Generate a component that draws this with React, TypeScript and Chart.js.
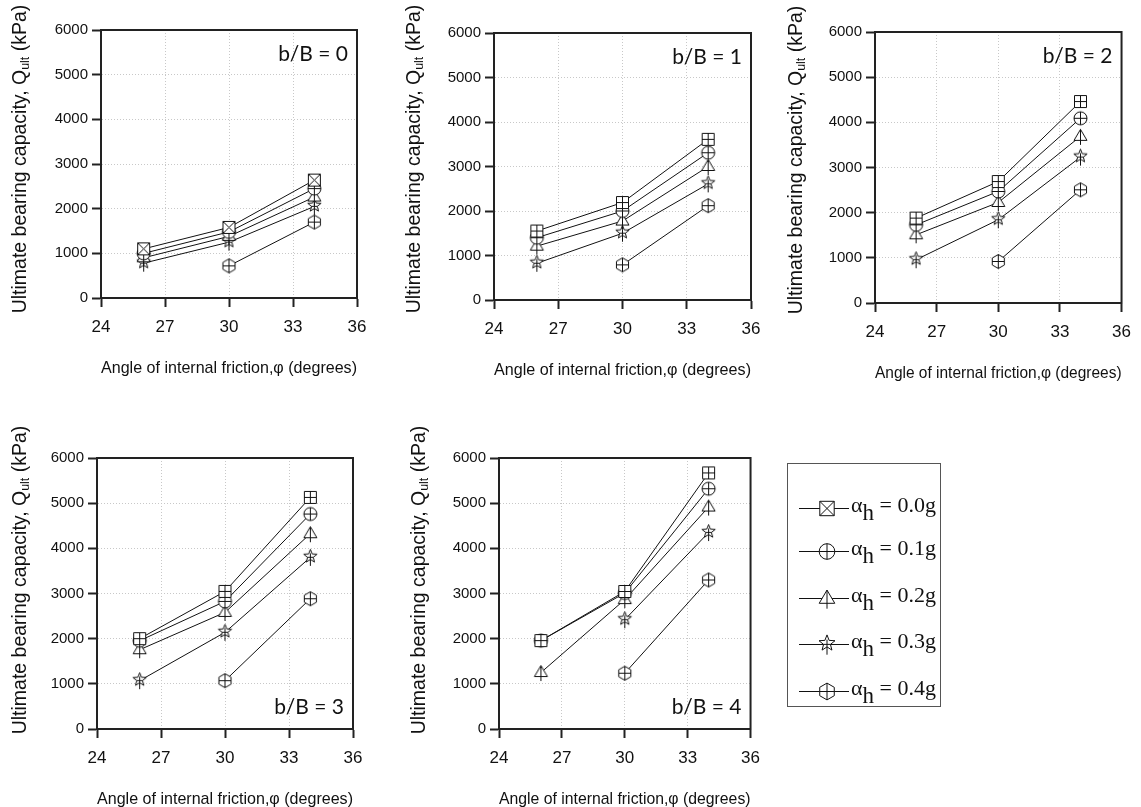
import React, { useEffect, useRef } from 'react';
import { Chart, registerables } from 'chart.js';
Chart.register(...registerables);

// ---------------- data ----------------
const phiDeg = [26, 30, 34];
const xTickValues = [24, 27, 30, 33, 36];
const yTickValues = [0, 1000, 2000, 3000, 4000, 5000, 6000];
const accelLabels = ['0.0g', '0.1g', '0.2g', '0.3g', '0.4g'];
const panelTitles = ['b/B = 0', 'b/B = 1', 'b/B = 2', 'b/B = 3', 'b/B = 4'];

// Q_ult (kPa); rows: α_h = 0.0g .. 0.4g ; columns: φ = 26, 30, 34
const qult_bB0 = [
  [1100, 1580, 2640],
  [1000, 1480, 2450],
  [900, 1380, 2260],
  [780, 1250, 2050],
  [null, 720, 1700],
];
const qult_bB1 = [
  [1550, 2190, 3610],
  [1400, 2000, 3310],
  [1210, 1775, 3000],
  [825, 1500, 2610],
  [null, 790, 2120],
];
const qult_bB2 = [
  [1880, 2690, 4460],
  [1730, 2470, 4090],
  [1510, 2226, 3690],
  [958, 1843, 3230],
  [null, 920, 2506],
];
const qult_bB3 = [
  [2000, 3046, 5128],
  [1955, 2825, 4760],
  [1755, 2582, 4324],
  [1070, 2140, 3800],
  [null, 1070, 2885],
];
const qult_bB4 = [
  [1957, 3045, 5670],
  [1957, 3010, 5320],
  [1250, 2865, 4915],
  [null, 2420, 4350],
  [null, 1235, 3300],
];

// ---------------- layout ----------------
type PanelCfg = {
  values: (number | null)[][];
  title: string;
  labelTop: boolean;
  squareKind: string;
  left: number; top: number; w: number; h: number;
  pl: number; pt: number; pr: number; pb: number;
  yTitleX: number; yTitleCY: number;
};

const panels: PanelCfg[] = [
  { values: qult_bB0, title: panelTitles[0], labelTop: true, squareKind: 'sqx', left: 0, top: 0, w: 380, h: 390, pl: 101, pt: 30, pr: 357, pb: 298, yTitleX: 21, yTitleCY: 159 },
  { values: qult_bB1, title: panelTitles[1], labelTop: true, squareKind: 'sqp', left: 385, top: 0, w: 390, h: 390, pl: 109, pt: 33, pr: 366, pb: 300, yTitleX: 30, yTitleCY: 159 },
  { values: qult_bB2, title: panelTitles[2], labelTop: true, squareKind: 'sqp', left: 770, top: 0, w: 371, h: 390, pl: 105, pt: 32, pr: 362, pb: 303, yTitleX: 27, yTitleCY: 160 },
  { values: qult_bB3, title: panelTitles[3], labelTop: false, squareKind: 'sqp', left: 0, top: 420, w: 380, h: 400, pl: 97, pt: 38, pr: 353, pb: 309, yTitleX: 21, yTitleCY: 160 },
  { values: qult_bB4, title: panelTitles[4], labelTop: false, squareKind: 'sqp', left: 400, top: 420, w: 370, h: 400, pl: 99, pt: 38, pr: 354, pb: 309, yTitleX: 20, yTitleCY: 160 },
];

const SANS = "'Liberation Sans', Arial, sans-serif";
const SERIF = "'Liberation Serif', 'Times New Roman', serif";
const INK = '#111';

// ---------------- markers ----------------
function drawMarker(ctx: CanvasRenderingContext2D, kind: string, cx: number, cy: number, k: number) {
  const h = 6 * k;
  ctx.save();
  ctx.lineWidth = 1;
  ctx.strokeStyle = INK;
  ctx.fillStyle = '#fff';
  ctx.beginPath();
  if (kind === 'sqx' || kind === 'sqp') {
    ctx.rect(cx - h, cy - h, 2 * h, 2 * h);
    ctx.fill();
    ctx.stroke();
    ctx.beginPath();
    if (kind === 'sqx') {
      ctx.moveTo(cx - h, cy - h); ctx.lineTo(cx + h, cy + h);
      ctx.moveTo(cx + h, cy - h); ctx.lineTo(cx - h, cy + h);
    } else {
      ctx.moveTo(cx, cy - h); ctx.lineTo(cx, cy + h);
      ctx.moveTo(cx - h, cy); ctx.lineTo(cx + h, cy);
    }
    ctx.stroke();
  } else if (kind === 'cp') {
    const r = 6.5 * k;
    ctx.arc(cx, cy, r, 0, Math.PI * 2);
    ctx.fill();
    ctx.stroke();
    ctx.beginPath();
    ctx.moveTo(cx, cy - r); ctx.lineTo(cx, cy + r);
    ctx.moveTo(cx - r, cy); ctx.lineTo(cx + r, cy);
    ctx.stroke();
  } else if (kind === 'tri') {
    const top = cy - 7 * k, base = cy + 4 * k, hw = 6.5 * k;
    ctx.moveTo(cx, top); ctx.lineTo(cx + hw, base); ctx.lineTo(cx - hw, base); ctx.closePath();
    ctx.fill();
    ctx.stroke();
    ctx.beginPath();
    ctx.moveTo(cx, top); ctx.lineTo(cx, cy + 8.5 * k);
    ctx.stroke();
  } else if (kind === 'star') {
    const R = 7 * k, r = 3 * k, oy = cy - 1 * k;
    for (let i = 0; i < 10; i++) {
      const a = -Math.PI / 2 + (i * Math.PI) / 5;
      const rr = i % 2 ? r : R;
      const px = cx + rr * Math.cos(a), py = oy + rr * Math.sin(a);
      if (i === 0) ctx.moveTo(px, py); else ctx.lineTo(px, py);
    }
    ctx.closePath();
    ctx.fill();
    ctx.stroke();
    ctx.beginPath();
    ctx.moveTo(cx, oy - r); ctx.lineTo(cx, cy + 8.5 * k);
    ctx.moveTo(cx - r, oy + r * 0.3); ctx.lineTo(cx + r, oy + r * 0.3);
    ctx.stroke();
  } else if (kind === 'hex') {
    const R = 7 * k;
    for (let i = 0; i < 6; i++) {
      const a = -Math.PI / 2 + (i * Math.PI) / 3;
      const px = cx + R * Math.cos(a), py = cy + R * Math.sin(a);
      if (i === 0) ctx.moveTo(px, py); else ctx.lineTo(px, py);
    }
    ctx.closePath();
    ctx.fill();
    ctx.stroke();
    const hw = R * Math.cos(Math.PI / 6);
    ctx.beginPath();
    ctx.moveTo(cx, cy - R); ctx.lineTo(cx, cy + R);
    ctx.moveTo(cx - hw, cy); ctx.lineTo(cx + hw, cy);
    ctx.stroke();
  }
  ctx.restore();
}

const markerCache: Record<string, HTMLCanvasElement> = {};
function getMarker(kind: string): HTMLCanvasElement {
  if (!markerCache[kind]) {
    const c = document.createElement('canvas');
    c.width = 21;
    c.height = 21;
    const ctx = c.getContext('2d')!;
    drawMarker(ctx, kind, 10.5, 10.5, 1);
    markerCache[kind] = c;
  }
  return markerCache[kind];
}

const seriesKinds = ['SQ', 'cp', 'tri', 'star', 'hex'];

// ---------------- chart ----------------
function buildConfig(p: PanelCfg): any {
  const decor = {
    id: 'decor' + p.title,
    afterDraw(chart: any) {
      const { ctx, chartArea: a } = chart;
      ctx.save();
      // full frame
      ctx.strokeStyle = '#222';
      ctx.lineWidth = 2;
      ctx.strokeRect(a.left, a.top, a.right - a.left, a.bottom - a.top);
      // panel label
      ctx.fillStyle = INK;
      ctx.font = "21px Lato, 'Open Sans', sans-serif";
      ctx.textAlign = 'right';
      ctx.textBaseline = 'middle';
      ctx.fillText(p.title, a.right - 9, p.labelTop ? a.top + 24 : a.bottom - 22);
      // y-axis title with subscript
      const big = `19.5px ${SANS}`;
      const small = `12.5px ${SANS}`;
      const t1 = 'Ultimate bearing capacity, Q';
      const t2 = 'ult';
      const t3 = ' (kPa)';
      ctx.font = big;
      const w1 = ctx.measureText(t1).width;
      const w3 = ctx.measureText(t3).width;
      ctx.font = small;
      const w2 = ctx.measureText(t2).width;
      const total = w1 + w2 + w3;
      ctx.translate(p.yTitleX, p.yTitleCY);
      ctx.rotate(-Math.PI / 2);
      ctx.textAlign = 'left';
      ctx.textBaseline = 'middle';
      let x = -total / 2;
      ctx.font = big;
      ctx.fillText(t1, x, 0);
      x += w1;
      ctx.font = small;
      ctx.fillText(t2, x, 5);
      x += w2;
      ctx.font = big;
      ctx.fillText(t3, x, 0);
      ctx.restore();
    },
  };

  const xTitleFont = 17;
  const xTitleCenter = p.pb + 70;
  const titlePadBottom = Math.max(0, p.h - xTitleCenter - (xTitleFont * 1.2) / 2);

  return {
    type: 'line',
    data: {
      datasets: accelLabels.map((lab, i) => {
        const kind = seriesKinds[i] === 'SQ' ? p.squareKind : seriesKinds[i];
        return {
          label: 'α_h = ' + lab,
          data: phiDeg.map((x, j) => ({ x, y: p.values[i][j] })),
          borderColor: INK,
          backgroundColor: '#fff',
          borderWidth: 1,
          pointStyle: getMarker(kind),
          pointRadius: 7,
          pointHoverRadius: 7,
          fill: false,
          tension: 0,
          spanGaps: false,
        };
      }),
    },
    options: {
      responsive: false,
      animation: false,
      events: [],
      layout: { padding: { left: 0, top: p.pt, right: p.w - p.pr, bottom: 0 } },
      plugins: { legend: { display: false }, tooltip: { enabled: false } },
      scales: {
        x: {
          type: 'linear',
          min: 24,
          max: 36,
          afterBuildTicks: (s: any) => {
            s.ticks = xTickValues.map((v) => ({ value: v }));
          },
          afterFit: (s: any) => {
            s.height = p.h - p.pb;
          },
          grid: { color: '#c8c8c8', lineWidth: 1, tickColor: '#222', tickWidth: 2, tickLength: 9 },
          border: { display: true, color: '#222', width: 2, dash: [1, 2] },
          ticks: {
            color: INK,
            font: { family: SANS, size: 17 },
            padding: 10,
            maxRotation: 0,
            autoSkip: false,
            callback: (v: any) => String(v),
          },
          title: {
            display: true,
            text: 'Angle of internal friction,φ (degrees)',
            color: INK,
            font: { family: SANS, size: xTitleFont },
            padding: { top: 0, bottom: titlePadBottom },
          },
        },
        y: {
          type: 'linear',
          min: 0,
          max: 6000,
          afterBuildTicks: (s: any) => {
            s.ticks = yTickValues.map((v) => ({ value: v }));
          },
          afterFit: (s: any) => {
            s.width = p.pl;
          },
          grid: { color: '#c8c8c8', lineWidth: 1, tickColor: '#222', tickWidth: 2, tickLength: 9 },
          border: { display: true, color: '#222', width: 2, dash: [1, 2] },
          ticks: {
            color: INK,
            font: { family: SANS, size: 15 },
            padding: 4,
            autoSkip: false,
            callback: (v: any) => String(v),
          },
          title: { display: false },
        },
      },
    },
    plugins: [decor],
  };
}

function Panel({ p }: { p: PanelCfg }) {
  const ref = useRef<HTMLCanvasElement>(null);
  useEffect(() => {
    const chart = new Chart(ref.current as HTMLCanvasElement, buildConfig(p));
    return () => chart.destroy();
  }, []);
  return (
    <canvas
      ref={ref}
      width={p.w}
      height={p.h}
      style={{ position: 'absolute', left: p.left, top: p.top, width: p.w, height: p.h }}
    />
  );
}

const legendKinds = ['sqx', 'cp', 'tri', 'star', 'hex'];
const legendRowCenters = [44, 87, 134, 180, 227];

function Legend() {
  const refs = useRef<(HTMLCanvasElement | null)[]>([]);
  useEffect(() => {
    refs.current.forEach((c, i) => {
      if (!c) return;
      const ctx = c.getContext('2d')!;
      ctx.clearRect(0, 0, c.width, c.height);
      ctx.strokeStyle = INK;
      ctx.lineWidth = 1;
      ctx.beginPath();
      ctx.moveTo(3, 13.5);
      ctx.lineTo(53, 13.5);
      ctx.stroke();
      drawMarker(ctx, legendKinds[i], 31, 13.5, 1.2);
    });
  }, []);
  return (
    <div
      style={{
        position: 'absolute',
        left: 787,
        top: 463,
        width: 152,
        height: 242,
        border: '1px solid #555',
        background: '#fff',
      }}
    >
      {accelLabels.map((lab, i) => (
        <div key={lab} style={{ position: 'absolute', left: 0, top: legendRowCenters[i] - 13, width: 152, height: 26 }}>
          <canvas
            ref={(el) => {
              refs.current[i] = el;
            }}
            width={58}
            height={27}
            style={{ position: 'absolute', left: 8, top: 0 }}
          />
          <div
            style={{
              position: 'absolute',
              left: 63,
              top: -3,
              lineHeight: '26px',
              whiteSpace: 'nowrap',
              fontFamily: SERIF,
              fontSize: 22,
              color: INK,
            }}
          >
            α<span style={{ fontSize: 23, position: 'relative', top: 8 }}>h</span> = {lab}
          </div>
        </div>
      ))}
    </div>
  );
}

export default function App() {
  return (
    <div
      style={{
        position: 'absolute',
        left: 0,
        top: 0,
        width: 1141,
        height: 807,
        overflow: 'hidden',
        background: '#fff',
      }}
    >
      {panels.map((p) => (
        <Panel key={p.title} p={p} />
      ))}
      <Legend />
    </div>
  );
}
